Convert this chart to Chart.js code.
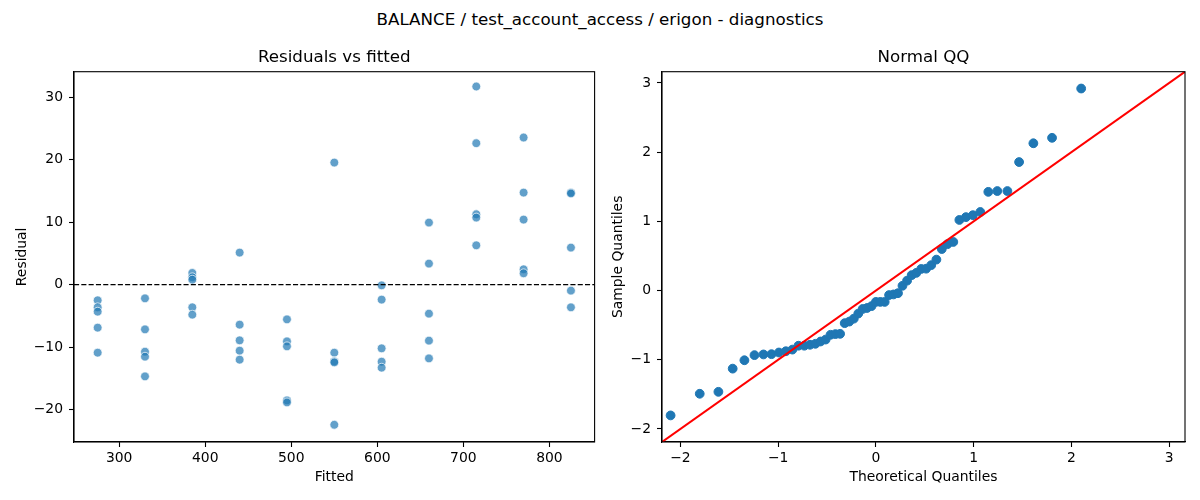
<!DOCTYPE html>
<html>
<head>
<meta charset="utf-8">
<title>diagnostics</title>
<script src="https://cdn.jsdelivr.net/npm/chart.js@4.4.1/dist/chart.umd.min.js"></script>
<style>
    body { margin: 0; background: #fff; }
    #fig { position: relative; width: 1200px; height: 500px; font-family: "DejaVu Sans", sans-serif; }
    #suptitle { position: absolute; top: 9px; left: 0; width: 1200px; text-align: center; font-size: 16.7px; line-height: 20px; color: #000; }
    .panel { position: absolute; top: 0; width: 600px; height: 500px; }
</style>
</head>
<body>
<div id="fig">
    <div id="suptitle">BALANCE / test_account_access / erigon - diagnostics</div>
    <div class="panel" style="left:0"><canvas id="resid-chart" width="600" height="500"></canvas></div>
    <div class="panel" style="left:600px"><canvas id="qq-chart" width="600" height="500"></canvas></div>
</div>
<script>
// residuals vs fitted (5 runs per fitted level)
const fitted = [
    275, 275, 275, 275, 275,
    330, 330, 330, 330, 330,
    385, 385, 385, 385, 385,
    440, 440, 440, 440, 440,
    495, 495, 495, 495, 495,
    550, 550, 550, 550, 550,
    605, 605, 605, 605, 605,
    660, 660, 660, 660, 660,
    715, 715, 715, 715, 715,
    770, 770, 770, 770, 770,
    825, 825, 825, 825, 825
];
const residual = [
    -2.51, -3.63, -4.33, -6.89, -10.90,
    -2.19, -7.16, -10.74, -11.54, -14.69,
    1.87, 1.18, 0.80, -3.63, -4.81,
    5.13, -6.41, -8.92, -10.58, -12.02,
    -5.56, -9.08, -9.88, -18.54, -18.86,
    19.55, -10.90, -12.29, -12.45, -22.44,
    -0.11, -2.40, -10.20, -12.34, -13.30,
    9.94, 3.37, -4.65, -8.97, -11.81,
    31.73, 22.65, 11.27, 10.74, 6.30,
    23.56, 14.74, 10.42, 2.46, 1.82,
    14.74, 14.60, 5.93, -0.96, -3.63
];
const fittedRange = [247.5, 852.5];
const residRange = [-25.2, 34.1];
const fittedTicks = [300, 400, 500, 600, 700, 800];
const residTicks = [-20, -10, 0, 10, 20, 30];

// normal QQ
const theoretical = [
    -2.100, -1.802, -1.611, -1.465, -1.345, -1.242, -1.150, -1.068, -0.992, -0.921,
    -0.854, -0.792, -0.732, -0.674, -0.619, -0.566, -0.514, -0.464, -0.414, -0.366,
    -0.319, -0.272, -0.226, -0.180, -0.135, -0.090, -0.045, 0, 0.045, 0.090,
    0.135, 0.180, 0.226, 0.272, 0.319, 0.366, 0.414, 0.464, 0.514, 0.566,
    0.619, 0.674, 0.732, 0.792, 0.854, 0.921, 0.992, 1.068, 1.150, 1.242,
    1.345, 1.465, 1.611, 1.802, 2.100
];
const sample = [
    -1.804, -1.491, -1.463, -1.128, -1.007, -0.933, -0.923, -0.919, -0.895, -0.877,
    -0.853, -0.797, -0.797, -0.783, -0.769, -0.736, -0.708, -0.639, -0.629, -0.625,
    -0.471, -0.448, -0.406, -0.332, -0.266, -0.252, -0.225, -0.164, -0.164, -0.164,
    -0.065, -0.056, -0.038, 0.069, 0.143, 0.223, 0.256, 0.312, 0.316, 0.367,
    0.447, 0.600, 0.670, 0.702, 1.020, 1.061, 1.089, 1.135, 1.426, 1.438,
    1.438, 1.857, 2.128, 2.207, 2.919
];
const qqRange = [-2.188, 3.162];
const qqTicks = [-2, -1, 0, 1, 2, 3];

Chart.defaults.font.family = '"DejaVu Sans", sans-serif';
Chart.defaults.color = '#000';

const tickFont = {size: 13.9};
const minus = v => String(v).replace('-', '\u2212');

// рамка вокруг области графика, как spines в matplotlib
const framePlugin = {
    id: 'frame',
    afterDatasetsDraw(chart) {
        const {ctx, chartArea} = chart;
        ctx.save();
        ctx.strokeStyle = '#000';
        ctx.lineWidth = 1.1;
        ctx.strokeRect(chartArea.left, chartArea.top, chartArea.right - chartArea.left, chartArea.bottom - chartArea.top);
        ctx.restore();
    }
};

// заголовок по центру области графика, а не всего канваса
const panelTitlePlugin = {
    id: 'panelTitle',
    afterDraw(chart, args, opts) {
        const {ctx, chartArea} = chart;
        ctx.save();
        ctx.font = '16.7px "DejaVu Sans", sans-serif';
        ctx.fillStyle = '#000';
        ctx.textAlign = 'center';
        ctx.textBaseline = 'alphabetic';
        ctx.fillText(opts.text, (chartArea.left + chartArea.right) / 2, chartArea.top - 9.5);
        ctx.restore();
    }
};

function axis(range, ticks, title, size, titlePad, horizontal) {
    return {
        type: 'linear',
        min: range[0],
        max: range[1],
        afterBuildTicks: s => { s.ticks = ticks.map(v => ({value: v})); },
        afterFit: s => {
            // фиксированный размер оси, без лишних отступов под подписи
            if (horizontal) { s.height = size; } else { s.width = size; }
            s.paddingLeft = 0;
            s.paddingRight = 0;
            s.paddingTop = 0;
            s.paddingBottom = 0;
        },
        grid: {drawOnChartArea: false, drawTicks: true, tickLength: 5, tickWidth: 1.1, tickColor: '#000'},
        border: {display: true, color: '#000', width: 1.1},
        ticks: {color: '#000', font: tickFont, padding: horizontal ? 3 : 6, maxRotation: 0, autoSkip: false, callback: minus},
        title: {
            display: true, text: title, color: '#000', font: {size: 13.9},
            padding: horizontal ? {top: 0, bottom: titlePad} : {top: titlePad, bottom: 0}
        }
    };
}

new Chart(document.getElementById('resid-chart'), {
    type: 'scatter',
    data: {
        datasets: [
            {
                type: 'line',
                data: fittedRange.map(x => ({x: x, y: 0})),
                borderColor: '#000',
                borderWidth: 1.4,
                borderDash: [5.1, 2.2],
                pointRadius: 0,
                fill: false
            },
            {
                data: fitted.map((x, i) => ({x: x, y: residual[i]})),
                backgroundColor: 'rgba(31,119,180,0.7)',
                borderColor: 'rgba(255,255,255,0.7)',
                borderWidth: 1,
                pointRadius: 4.4
            }
        ]
    },
    options: {
        responsive: false,
        animation: false,
        layout: {padding: {top: 71.7, left: 0, right: 3, bottom: 0}},
        scales: {
            x: axis(fittedRange, fittedTicks, 'Fitted', 58, 14.6, true),
            y: axis(residRange, residTicks, 'Residual', 74, 13.7, false)
        },
        plugins: {
            legend: {display: false},
            tooltip: {enabled: false},
            title: {display: false},
            panelTitle: {text: 'Residuals vs fitted'}
        }
    },
    plugins: [framePlugin, panelTitlePlugin]
});

new Chart(document.getElementById('qq-chart'), {
    type: 'scatter',
    data: {
        datasets: [
            {
                type: 'line',
                data: qqRange.map(v => ({x: v, y: v})),
                borderColor: '#ff0000',
                borderWidth: 2,
                pointRadius: 0,
                fill: false
            },
            {
                data: theoretical.map((x, i) => ({x: x, y: sample[i]})),
                backgroundColor: '#1f77b4',
                borderColor: '#1f77b4',
                borderWidth: 1,
                pointRadius: 4.4
            }
        ]
    },
    options: {
        responsive: false,
        animation: false,
        layout: {padding: {top: 71.7, left: 0, right: 15, bottom: 0}},
        scales: {
            x: axis(qqRange, qqTicks, 'Theoretical Quantiles', 58, 14.6, true),
            y: axis(qqRange, qqTicks, 'Sample Quantiles', 62, 9.7, false)
        },
        plugins: {
            legend: {display: false},
            tooltip: {enabled: false},
            title: {display: false},
            panelTitle: {text: 'Normal QQ'}
        }
    },
    plugins: [framePlugin, panelTitlePlugin]
});
</script>
</body>
</html>
